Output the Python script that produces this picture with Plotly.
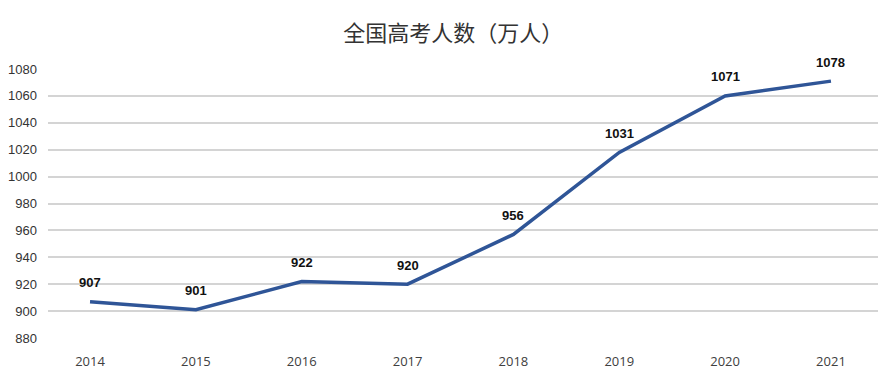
import plotly.graph_objects as go

years = ["2014", "2015", "2016", "2017", "2018", "2019", "2020", "2021"]
plotted = [907, 901, 922, 920, 957, 1018, 1060, 1071]
labels = ["907", "901", "922", "920", "956", "1031", "1071", "1078"]
y_ticks = [880, 900, 920, 940, 960, 980, 1000, 1020, 1040, 1060, 1080]

fig = go.Figure()
fig.add_trace(go.Scatter(
    x=years, y=plotted, mode="lines",
    line=dict(color="#2F5597", width=3.5),
    hoverinfo="skip", showlegend=False,
))
for i, (y, t) in enumerate(zip(plotted, labels)):
    fig.add_annotation(x=i, y=y, xref="x", yref="y", text="<b>" + t + "</b>", showarrow=False, yshift=19,
                       font=dict(family="Liberation Sans, Arial", size=13, color="#111111"))

fig.update_layout(
    width=878, height=379,
    paper_bgcolor="white", plot_bgcolor="white",
    margin=dict(l=40, r=0, t=61, b=49, autoexpand=False),
    title=dict(text="全国高考人数（万人）", x=0.507, xanchor="center", y=0.934, yanchor="middle",
               font=dict(family="Noto Sans CJK SC", size=22, color="#333333")),
)
fig.update_xaxes(type="category", range=[-0.397, 7.52], showgrid=False, showline=False,
                 zeroline=False, ticks="", ticklabelstandoff=14, automargin=False,
                 tickfont=dict(family="Open Sans, Liberation Sans", size=13, color="#404040"))
fig.update_yaxes(range=[880, 1080], tickvals=y_ticks, showgrid=True, gridcolor="#d4d4d4",
                 gridwidth=1.5, zeroline=False, showline=False, ticks="", ticklabelstandoff=10,
                 automargin=False,
                 tickfont=dict(family="Liberation Sans, Arial", size=13, color="#333333"))

fig.write_html("out.html")
